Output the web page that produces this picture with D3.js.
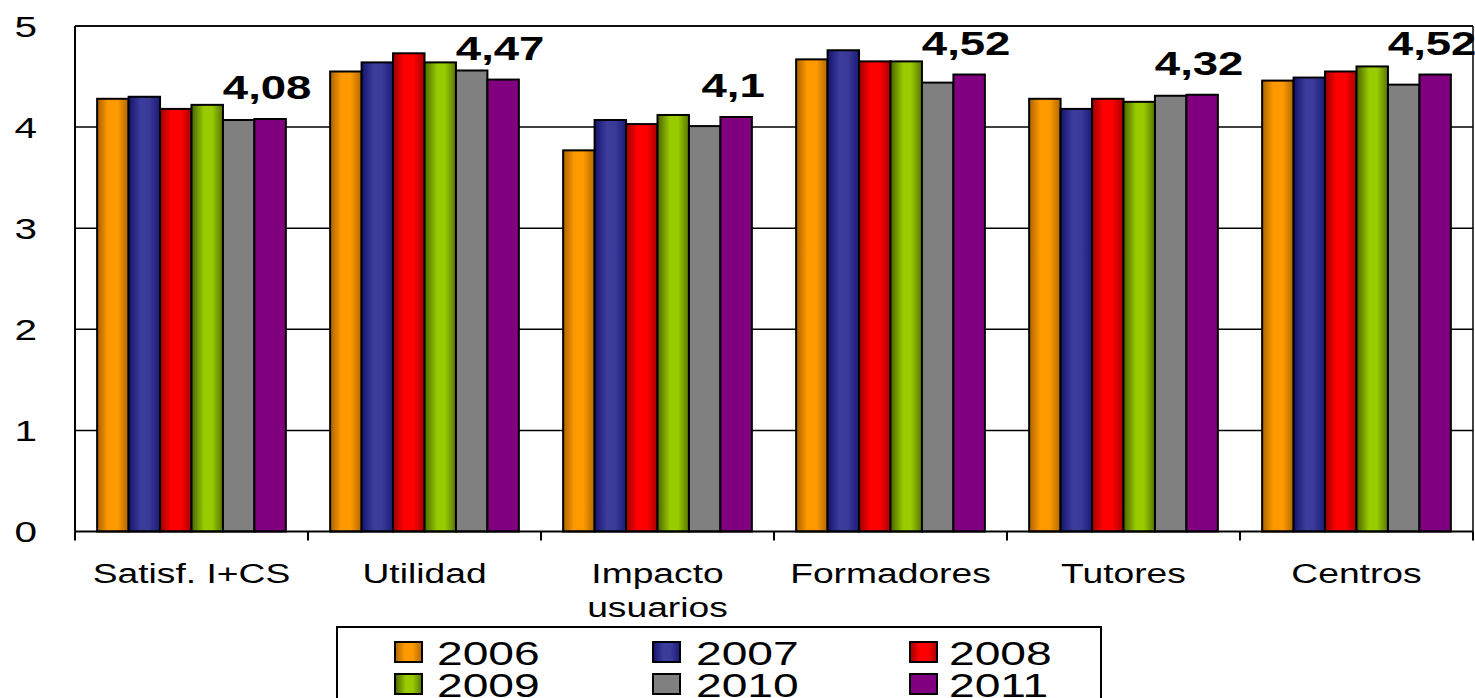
<!DOCTYPE html>
<html>
<head>
<meta charset="utf-8">
<script src="https://cdn.jsdelivr.net/npm/d3@7"></script>
<style>
  html, body { margin: 0; padding: 0; background: #fff; }
  svg { display: block; }
  text { font-family: "Liberation Sans", Arial, sans-serif; fill: #000; }
</style>
</head>
<body>
<svg id="chart" width="1475" height="698"></svg>
<script>
// ---- data ----
const categories = ["Satisf. I+CS", "Utilidad", "Impacto\nusuarios", "Formadores", "Tutores", "Centros"];
const years = ["2006", "2007", "2008", "2009", "2010", "2011"];
const v2006 = [4.28, 4.55, 3.77, 4.67, 4.28, 4.46];
const v2007 = [4.30, 4.64, 4.07, 4.76, 4.18, 4.49];
const v2008 = [4.18, 4.73, 4.03, 4.65, 4.28, 4.55];
const v2009 = [4.22, 4.64, 4.12, 4.65, 4.25, 4.60];
const v2010 = [4.07, 4.56, 4.01, 4.44, 4.31, 4.42];
const v2011 = [4.08, 4.47, 4.10, 4.52, 4.32, 4.52];
const yTicks = [0, 1, 2, 3, 4, 5];

const seriesValues = [v2006, v2007, v2008, v2009, v2010, v2011];

// ---- styles ----
const gradStops = [
  [["0%", "#a86300"], ["35%", "#ff9900"], ["65%", "#ff9900"], ["100%", "#b06800"]],
  [["0%", "#15156e"], ["40%", "#3d3d9e"], ["65%", "#3a3a99"], ["100%", "#1a1a78"]],
  [["0%", "#9a0000"], ["35%", "#ff0000"], ["65%", "#ff0000"], ["100%", "#a80000"]],
  [["0%", "#4a6300"], ["40%", "#99cc00"], ["65%", "#99cc00"], ["100%", "#587500"]],
  [["0%", "#808080"], ["100%", "#808080"]],
  [["0%", "#800080"], ["100%", "#800080"]]
];

const svg = d3.select("#chart");
const defs = svg.append("defs");
gradStops.forEach((stops, i) => {
  const g = defs.append("linearGradient").attr("id", "g" + i)
    .attr("x1", "0%").attr("x2", "100%").attr("y1", "0%").attr("y2", "0%");
  stops.forEach(s => g.append("stop").attr("offset", s[0]).attr("stop-color", s[1]));
});

const L = 75, R = 1473, T = 26, B = 531.5;
const x0 = d3.scaleBand().domain(categories).range([L, R]).paddingInner(0.19).paddingOuter(0.095);
const x1 = d3.scaleBand().domain(years).range([0, x0.bandwidth()]);
const y = d3.scaleLinear().domain([0, 5]).range([B, T]);

function sText(sel, x, yy, sx) {
  return sel.attr("transform", `translate(${x},${yy}) scale(${sx},1)`);
}

// gridlines
svg.append("g").selectAll("line").data(yTicks.filter(t => t > 0)).join("line")
  .attr("x1", L).attr("x2", R).attr("y1", d => y(d)).attr("y2", d => y(d))
  .attr("stroke", "#000").attr("stroke-width", 1.5);

// right border
svg.append("line").attr("x1", R).attr("x2", R).attr("y1", T).attr("y2", B)
  .attr("stroke", "#000").attr("stroke-width", 1.5);

// y tick labels
svg.append("g").selectAll("text").data(yTicks).join("text")
  .each(function(d) {
    sText(d3.select(this), 37, y(d) + 10.5, 1.35);
  })
  .attr("text-anchor", "end").attr("font-size", 30).text(d => d);

// bars
const groups = svg.append("g").selectAll("g").data(categories).join("g")
  .attr("transform", d => `translate(${x0(d)},0)`);
groups.selectAll("rect")
  .data((c, ci) => years.map((yr, si) => ({ yr, si, v: seriesValues[si][ci] })))
  .join("rect")
  .attr("x", d => x1(d.yr))
  .attr("width", x1.bandwidth())
  .attr("y", d => y(d.v))
  .attr("height", d => y(0) - y(d.v))
  .attr("fill", d => `url(#g${d.si})`)
  .attr("stroke", "#000").attr("stroke-width", 2);

// value labels (2011)
groups.append("text")
  .each(function(c, ci) {
    const v = v2011[ci];
    sText(d3.select(this), x1("2011") + x1.bandwidth() / 2 - 3, y(v) - 20, 1.38);
  })
  .attr("text-anchor", "middle").attr("font-size", 33).attr("font-weight", "bold")
  .text((c, ci) => String(v2011[ci]).replace(".", ","));

// y axis line and x axis line
svg.append("line").attr("x1", L).attr("x2", L).attr("y1", T).attr("y2", B)
  .attr("stroke", "#000").attr("stroke-width", 2);
svg.append("line").attr("x1", L).attr("x2", R).attr("y1", T).attr("y2", T)
  .attr("stroke", "#000").attr("stroke-width", 1.5);
svg.append("line").attr("x1", L).attr("x2", R).attr("y1", B).attr("y2", B)
  .attr("stroke", "#000").attr("stroke-width", 2);

// x ticks at band boundaries
const bounds = categories.map(c => x0(c) - x0.step() * x0.paddingInner() / 2).concat([R]);
svg.append("g").selectAll("line").data(bounds).join("line")
  .attr("x1", d => d).attr("x2", d => d).attr("y1", B).attr("y2", B + 9)
  .attr("stroke", "#000").attr("stroke-width", 2);

// category labels
svg.append("g").selectAll("text").data(categories).join("text")
  .each(function(c) {
    const t = d3.select(this);
    sText(t, x0(c) + x0.bandwidth() / 2, 582.5, 1.33);
    c.split("\n").forEach((line, i) => {
      t.append("tspan").attr("x", 0).attr("dy", i === 0 ? 0 : 35).text(line);
    });
  })
  .attr("text-anchor", "middle").attr("font-size", 28);

// legend
const lg = svg.append("g");
lg.append("rect").attr("x", 337).attr("y", 627).attr("width", 764).attr("height", 100)
  .attr("fill", "#fff").attr("stroke", "#000").attr("stroke-width", 2);
const colSw = [395, 653, 910];
const colTx = [437, 696, 949];
const rowSw = [642, 674];
const rowTx = [664.5, 696.5];
years.forEach((yr, i) => {
  const c = i % 3, r = Math.floor(i / 3);
  lg.append("rect").attr("x", colSw[c]).attr("y", rowSw[r]).attr("width", 27).attr("height", 20)
    .attr("fill", `url(#g${i})`).attr("stroke", "#000").attr("stroke-width", 2);
  sText(lg.append("text"), colTx[c], rowTx[r], 1.4).attr("font-size", 33).text(yr);
});
</script>
</body>
</html>
